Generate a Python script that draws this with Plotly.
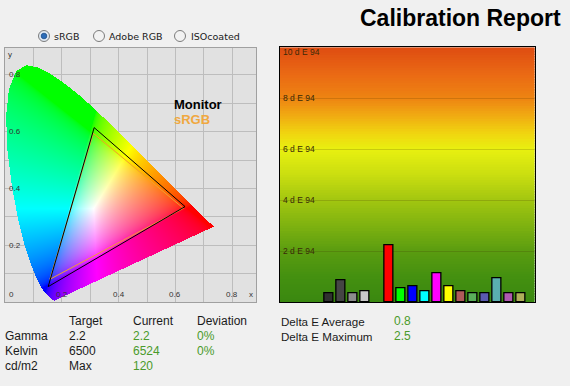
import numpy as np
import plotly.graph_objects as go

W, H = 570, 386

# ---------------- data ----------------
# CIE 1931 2-degree spectral locus (380..700 nm)
locus_x = [0.1741, 0.1740, 0.1738, 0.1736, 0.1733, 0.1730, 0.1726, 0.1721, 0.1714, 0.1703,
           0.1689, 0.1669, 0.1644, 0.1611, 0.1566, 0.1510, 0.1440, 0.1355, 0.1241, 0.1096,
           0.0913, 0.0687, 0.0454, 0.0235, 0.0082, 0.0039, 0.0139, 0.0389, 0.0743, 0.1142,
           0.1547, 0.1929, 0.2296, 0.2658, 0.3016, 0.3373, 0.3731, 0.4087, 0.4441, 0.4788,
           0.5125, 0.5448, 0.5752, 0.6029, 0.6270, 0.6482, 0.6658, 0.6801, 0.6915, 0.7006,
           0.7079, 0.7140, 0.7190, 0.7230, 0.7260, 0.7283, 0.7300, 0.7311, 0.7320, 0.7327,
           0.7334, 0.7347]
locus_y = [0.0050, 0.0050, 0.0049, 0.0049, 0.0048, 0.0048, 0.0048, 0.0048, 0.0051, 0.0058,
           0.0069, 0.0086, 0.0109, 0.0138, 0.0177, 0.0227, 0.0297, 0.0399, 0.0578, 0.0868,
           0.1327, 0.2007, 0.2950, 0.4127, 0.5384, 0.6548, 0.7502, 0.8120, 0.8338, 0.8262,
           0.8059, 0.7816, 0.7543, 0.7243, 0.6923, 0.6589, 0.6245, 0.5896, 0.5547, 0.5202,
           0.4866, 0.4544, 0.4242, 0.3965, 0.3725, 0.3514, 0.3340, 0.3197, 0.3083, 0.2993,
           0.2920, 0.2859, 0.2809, 0.2770, 0.2740, 0.2717, 0.2700, 0.2689, 0.2680, 0.2673,
           0.2666, 0.2653]

monitor_x = [0.634, 0.314, 0.152]
monitor_y = [0.336, 0.614, 0.054]
srgb_x = [0.628, 0.311, 0.158]
srgb_y = [0.330, 0.594, 0.080]

patch_names = ["Gray 1", "Gray 2", "Gray 3", "Gray 4", " ",
               "Red", "Green", "Blue", "Cyan", "Magenta", "Yellow",
               "Dark Red", "Dark Green", "Dark Blue", "Dark Cyan", "Dark Magenta", "Dark Yellow"]
delta_e = [0.35, 0.88, 0.35, 0.44, None,
           2.24, 0.55, 0.63, 0.44, 1.14, 0.63,
           0.44, 0.35, 0.35, 0.94, 0.35, 0.35]
patch_colors = ["#303030", "#454545", "#8c8c8c", "#c8c8c8", "#000000",
                "#ff0000", "#00ff00", "#0000ff", "#00ffff", "#ff00ff", "#ffff00",
                "#b05a5a", "#5aaf5a", "#5a5aaf", "#5aafaf", "#af5aaf", "#afaf5a"]
de_ticks = [2, 4, 6, 8, 10]

table_header = ["Target", "Current", "Deviation"]
table_rows = ["Gamma", "Kelvin", "cd/m2"]
table_target = ["2.2", "6500", "Max"]
table_current = ["2.2", "6524", "120"]
table_deviation = ["0%", "0%", ""]
de_summary_labels = ["Delta E Average", "Delta E Maximum"]
de_summary_values = ["0.8", "2.5"]
gamut_options = ["sRGB", "Adobe RGB", "ISOcoated"]

# ---------------- helpers ----------------
def px(x):
    return x / W

def py(y):
    return 1 - y / H

FONT = "Liberation Sans, Arial, sans-serif"

# ---------------- CIE image ----------------
XR = (256 - 5) / 284.0
YR = (302 - 48) / 284.0
nx, ny = 251, 254
dx, dy = XR / nx, YR / ny
xs = (np.arange(nx) + 0.5) * dx
ys = (np.arange(ny) + 0.5) * dy
GX, GY = np.meshgrid(xs, ys)

lx = np.array(locus_x)
ly = np.array(locus_y)
inside = np.zeros(GX.shape, dtype=bool)
n = len(lx)
j = n - 1
for i in range(n):
    yi, yj, xi, xj = ly[i], ly[j], lx[i], lx[j]
    cond = ((yi > GY) != (yj > GY)) & (GX < (xj - xi) * (GY - yi) / (yj - yi + 1e-12) + xi)
    inside ^= cond
    j = i

Xc = GX / GY
Yc = np.ones_like(GX)
Zc = (1 - GX - GY) / GY
R = 3.2406 * Xc - 1.5372 * Yc - 0.4986 * Zc
G = -0.9689 * Xc + 1.8758 * Yc + 0.0415 * Zc
B = 0.0557 * Xc - 0.2040 * Yc + 1.0570 * Zc
rgb = np.stack([R, G, B], axis=-1)
rgb = np.clip(rgb, 0, None)
rgb = rgb / np.maximum(rgb.max(axis=-1, keepdims=True), 1e-9)
rgb = np.where(rgb <= 0.0031308, 12.92 * rgb, 1.055 * np.power(rgb, 1 / 2.4) - 0.055)
rgb = np.clip(np.round(rgb * 255), 0, 255).astype(int)
alpha = inside.astype(int)[..., None]
rgba = np.concatenate([rgb, alpha], axis=-1)

fig = go.Figure()
fig.add_trace(go.Image(z=rgba.tolist(), colormodel="rgba", x0=xs[0], dx=dx, y0=ys[0], dy=dy,
                       xaxis="x", yaxis="y", hoverinfo="skip"))

fig.add_trace(go.Scatter(x=srgb_x + [srgb_x[0]], y=srgb_y + [srgb_y[0]], mode="lines",
                         line=dict(color="#f0a030", width=1), xaxis="x", yaxis="y",
                         hoverinfo="skip", showlegend=False))
fig.add_trace(go.Scatter(x=monitor_x + [monitor_x[0]], y=monitor_y + [monitor_y[0]], mode="lines",
                         line=dict(color="#000000", width=1), xaxis="x", yaxis="y",
                         hoverinfo="skip", showlegend=False))

fig.add_trace(go.Bar(x=patch_names, y=delta_e, marker=dict(color=patch_colors,
                     line=dict(color="#000000", width=1.3)), width=0.78,
                     xaxis="x2", yaxis="y2", hoverinfo="skip", showlegend=False))

# ---------------- shapes ----------------
shapes = []
# gradient background of dE chart
stops = [(0, (58, 136, 16)), (1, (68, 144, 16)), (2, (90, 156, 16)), (3, (126, 178, 16)),
         (4, (162, 198, 16)), (5, (202, 222, 16)), (6, (232, 240, 16)), (6.6, (240, 214, 16)),
         (7.3, (240, 172, 18)), (8, (238, 132, 18)), (9, (234, 104, 20)), (10, (222, 76, 18))]
sv = np.array([s[0] for s in stops], dtype=float)
sc = np.array([s[1] for s in stops], dtype=float)
steps = 100
for k in range(steps):
    v0 = 10 * k / steps
    v1 = min(10.0, 10 * (k + 1.6) / steps)
    vm = 10 * (k + 0.5) / steps
    c = [int(round(np.interp(vm, sv, sc[:, m]))) for m in range(3)]
    shapes.append(dict(type="rect", xref="x2 domain", yref="y2", x0=0, x1=1, y0=v0, y1=v1,
                       fillcolor=f"rgb({c[0]},{c[1]},{c[2]})", line=dict(width=0), layer="below"))

# radio buttons
radio_cx = [44, 99, 180]
text_x = [52, 107, 189]
for k, name in enumerate(gamut_options):
    cx, cy, r = radio_cx[k], 36, 5.5
    shapes.append(dict(type="circle", xref="paper", yref="paper",
                       x0=px(cx - r), x1=px(cx + r), y0=py(cy + r), y1=py(cy - r),
                       fillcolor="#f2f2f2" if k else "#dfe8f2", line=dict(color="#7c7c7c", width=1)))
    if k == 0:
        ri = 2.8
        shapes.append(dict(type="circle", xref="paper", yref="paper",
                           x0=px(cx - ri), x1=px(cx + ri), y0=py(cy + ri), y1=py(cy - ri),
                           fillcolor="#2c6cb8", line=dict(color="#1d4f8a", width=0.8)))

# ---------------- annotations ----------------
ann = []
ann.append(dict(text="<b>Calibration Report</b>", x=px(563), y=py(18), xref="paper", yref="paper",
                xanchor="right", yanchor="middle", showarrow=False,
                font=dict(family=FONT, size=23, color="#000000")))
for k, name in enumerate(gamut_options):
    ann.append(dict(text=name, x=px(text_x[k]), y=py(36), xref="paper", yref="paper",
                    xanchor="left", yanchor="middle", showarrow=False,
                    font=dict(family="DejaVu Sans, sans-serif", size=9.5, color="#1a1a1a")))

ann.append(dict(text="<b>Monitor</b>", x=px(172), y=py(104), xref="paper", yref="paper",
                xanchor="left", yanchor="middle", showarrow=False,
                font=dict(family=FONT, size=13, color="#000000")))
ann.append(dict(text="<b>sRGB</b>", x=px(172), y=py(119.5), xref="paper", yref="paper",
                xanchor="left", yanchor="middle", showarrow=False,
                font=dict(family=FONT, size=13, color="#f0a840")))

tick_font = dict(family=FONT, size=8, color="#333333")
for v in [0.2, 0.4, 0.6, 0.8]:
    ann.append(dict(text=f"{v:.1f}", x=v, y=0, xref="x", yref="y", xanchor="center",
                    yanchor="bottom", yshift=1, showarrow=False, font=tick_font))
    ann.append(dict(text=f"{v:.1f}", x=0, y=v, xref="x", yref="y", xanchor="left",
                    yanchor="middle", xshift=2, showarrow=False, font=tick_font))
ann.append(dict(text="0", x=0, y=0, xref="x", yref="y", xanchor="left", yanchor="bottom",
                xshift=2, yshift=1, showarrow=False, font=tick_font))
ann.append(dict(text="y", x=0, y=1, xref="x domain", yref="y domain", xanchor="left",
                yanchor="top", xshift=1, yshift=0, showarrow=False, font=tick_font))
ann.append(dict(text="x", x=1, y=0, xref="x domain", yref="y", xanchor="right",
                yanchor="bottom", xshift=-1, yshift=1, showarrow=False, font=tick_font))

de_font = dict(family=FONT, size=8.5, color="#3a2a08")
for v in de_ticks:
    ann.append(dict(text=f"{v} d E 94", x=0, y=v, xref="x2 domain", yref="y2",
                    xanchor="left", yanchor="middle", xshift=1, yshift=-5 if v == 10 else 0,
                    showarrow=False, font=de_font))

txt_font = dict(family=FONT, size=12, color="#1a1a1a")
grn_font = dict(family=FONT, size=12, color="#4a9a2a")
col_x = [3, 67, 131, 195]
row_y = [321, 336, 351, 366]
for k, h in enumerate(table_header):
    ann.append(dict(text=h, x=px(col_x[k + 1]), y=py(row_y[0]), xref="paper", yref="paper",
                    xanchor="left", yanchor="middle", showarrow=False, font=txt_font))
for r in range(3):
    yy = py(row_y[r + 1])
    for c, (vals, f) in enumerate([(table_rows, txt_font), (table_target, txt_font),
                                   (table_current, grn_font), (table_deviation, grn_font)]):
        if vals[r]:
            ann.append(dict(text=vals[r], x=px(col_x[c]), y=yy, xref="paper", yref="paper",
                            xanchor="left", yanchor="middle", showarrow=False, font=f))
for r in range(2):
    yy = py(row_y[r])
    ann.append(dict(text=de_summary_labels[r], x=px(279), y=yy, xref="paper", yref="paper",
                    xanchor="left", yanchor="middle", showarrow=False,
                    font=dict(family=FONT, size=11.6, color="#1a1a1a")))
    ann.append(dict(text=de_summary_values[r], x=px(392), y=yy, xref="paper", yref="paper",
                    xanchor="left", yanchor="middle", showarrow=False, font=grn_font))

fig.update_layout(
    width=W, height=H, margin=dict(l=0, r=0, t=0, b=0),
    paper_bgcolor="#f0f0f0", plot_bgcolor="#e1e1e1",
    showlegend=False, bargap=0,
    xaxis=dict(domain=[px(5), px(256)], range=[0, XR], dtick=0.1, tick0=0,
               showgrid=True, gridcolor="#bdbdbd", gridwidth=1, zeroline=False,
               showticklabels=False, ticks="", showline=True, linecolor="#a0a0a0",
               mirror=True, fixedrange=True),
    yaxis=dict(domain=[py(302), py(48)], range=[0, YR], dtick=0.1, tick0=0,
               showgrid=True, gridcolor="#bdbdbd", gridwidth=1, zeroline=False,
               showticklabels=False, ticks="", showline=True, linecolor="#a0a0a0",
               mirror=True, fixedrange=True, autorange=False),
    xaxis2=dict(domain=[px(279.5), px(534.5)], range=[-4.14, 17.1], type="category",
                categoryorder="array", categoryarray=patch_names,
                showgrid=False, zeroline=False, showticklabels=False, ticks="",
                showline=True, linecolor="#000000", mirror=True, fixedrange=True,
                anchor="y2"),
    yaxis2=dict(domain=[py(302.3), py(47.3)], range=[0, 10], tickvals=de_ticks[:-1],
                showgrid=True, gridcolor="rgba(60,40,0,0.18)", gridwidth=1, zeroline=False,
                showticklabels=False, ticks="", showline=True, linecolor="#000000",
                mirror=True, fixedrange=True, anchor="x2"),
    shapes=shapes, annotations=ann,
)

fig.write_html("out.html", config={"displayModeBar": False},
               post_script="document.body.style.margin='0px';document.body.style.overflow='hidden';")
